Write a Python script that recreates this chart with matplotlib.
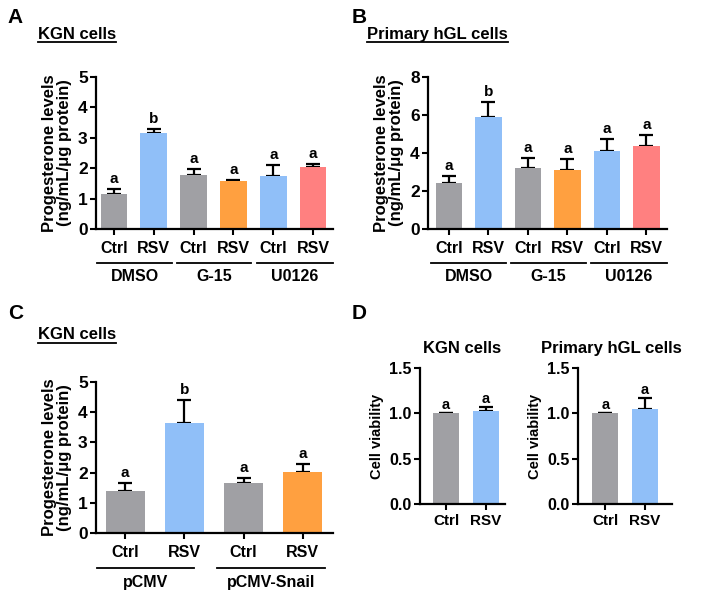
import numpy as np
import matplotlib
matplotlib.use("Agg")
import matplotlib.pyplot as plt
from matplotlib.lines import Line2D

plt.rcParams['font.family'] = ['Liberation Sans', 'DejaVu Sans']
plt.rcParams['font.weight'] = 'bold'
plt.rcParams['axes.linewidth'] = 1.6

GRAY = '#a0a0a4'
BLUE = '#90bff8'
ORANGE = '#ffa040'
PINK = '#ff8080'

# panel A: KGN cells
a_labels = ['Ctrl', 'RSV', 'Ctrl', 'RSV', 'Ctrl', 'RSV']
a_groups = ['DMSO', 'G-15', 'U0126']
a_vals = [1.16, 3.16, 1.77, 1.57, 1.75, 2.05]
a_err = [0.15, 0.14, 0.19, 0.05, 0.34, 0.08]
a_sig = ['a', 'b', 'a', 'a', 'a', 'a']
a_colors = [GRAY, BLUE, GRAY, ORANGE, BLUE, PINK]

# panel B: primary hGL cells
b_vals = [2.42, 5.88, 3.19, 3.13, 4.10, 4.36]
b_err = [0.35, 0.79, 0.56, 0.56, 0.61, 0.58]
b_sig = ['a', 'b', 'a', 'a', 'a', 'a']

# panel C: KGN cells, Snail overexpression
c_labels = ['Ctrl', 'RSV', 'Ctrl', 'RSV']
c_groups = ['pCMV', 'pCMV-Snail']
c_vals = [1.38, 3.64, 1.65, 2.02]
c_err = [0.28, 0.77, 0.18, 0.28]
c_sig = ['a', 'b', 'a', 'a']
c_colors = [GRAY, BLUE, GRAY, ORANGE]

# panel D: cell viability
d_labels = ['Ctrl', 'RSV']
d_kgn_vals = [1.0, 1.03]
d_kgn_err = [0.0, 0.04]
d_hgl_vals = [1.0, 1.05]
d_hgl_err = [0.0, 0.12]
d_sig = ['a', 'a']
d_colors = [GRAY, BLUE]

fig = plt.figure(figsize=(7.03, 5.99), dpi=100)


def bar_panel(rect, vals, err, sig, colors, labels, ylim, yticks, xlim, width,
              ylabel, fs=11.5, yfs=12.5, lfs=12, sig_off=None):
    ax = fig.add_axes(rect)
    x = np.arange(len(vals))
    ax.bar(x, vals, width=width, color=colors, zorder=2)
    ax.errorbar(x, vals, yerr=[np.zeros(len(vals)), err], fmt='none',
                ecolor='black', elinewidth=1.6, capsize=5, capthick=1.6, zorder=1)
    if sig_off is None:
        sig_off = (ylim[1] - ylim[0]) * 0.02
    for xi, v, e, s in zip(x, vals, err, sig):
        ax.text(xi, v + e + sig_off, s, ha='center', va='bottom',
                fontsize=fs - 0.5, fontweight='bold')
    ax.set_xlim(*xlim)
    ax.set_ylim(*ylim)
    ax.set_yticks(yticks)
    ax.set_xticks(x)
    ax.set_xticklabels(labels)
    ax.spines['top'].set_visible(False)
    ax.spines['right'].set_visible(False)
    ax.tick_params(width=1.5, length=4, labelsize=fs, pad=3)
    ax.tick_params(axis='y', labelsize=yfs, pad=2)
    ax.set_ylabel(ylabel, fontsize=lfs, fontweight='bold', labelpad=4,
                  linespacing=1.0)
    return ax


def group_lines(ax, spans, names, y_line, y_text, fs=11.5):
    tr = ax.get_xaxis_transform()
    for (x0, x1), name in zip(spans, names):
        ax.plot([x0, x1], [y_line, y_line], color='black', lw=1.3,
                transform=tr, clip_on=False)
        ax.text((x0 + x1) / 2, y_text, name, ha='center', va='center',
                transform=tr, fontsize=fs, fontweight='bold')


def underlined(x, y, s, fs=12):
    t = fig.text(x, y, s, ha='left', va='center', fontsize=fs, fontweight='bold')
    r = fig.canvas.get_renderer()
    bb = t.get_window_extent(renderer=r).transformed(fig.transFigure.inverted())
    fig.add_artist(Line2D([bb.x0, bb.x1], [bb.y0 - 0.001, bb.y0 - 0.001],
                          color='black', lw=1.3, transform=fig.transFigure))


ylab = 'Progesterone levels\n(ng/mL/\u03bcg protein)'

axA = bar_panel([0.1366, 0.6177, 0.3371, 0.2538], a_vals, a_err, a_sig, a_colors,
                a_labels, (0, 5), range(0, 6), (-0.45, 5.5), 0.67, ylab)
group_lines(axA, [(-0.42, 1.45), (1.58, 3.45), (3.58, 5.5)], a_groups, -0.225, -0.315)

axB = bar_panel([0.6088, 0.6177, 0.34, 0.2538], b_vals, b_err, b_sig, a_colors,
                a_labels, (0, 8), range(0, 9, 2), (-0.53, 5.52), 0.67, ylab)
group_lines(axB, [(-0.46, 1.45), (1.58, 3.47), (3.6, 5.52)], a_groups, -0.225, -0.315)

axC = bar_panel([0.1366, 0.1102, 0.3371, 0.2521], c_vals, c_err, c_sig, c_colors,
                c_labels, (0, 5), range(0, 6), (-0.49, 3.51), 0.66, ylab)
group_lines(axC, [(-0.47, 1.17), (1.55, 3.38)], c_groups, -0.232, -0.33)

axD1 = bar_panel([0.5974, 0.1586, 0.1209, 0.227], d_kgn_vals, d_kgn_err, d_sig,
                 d_colors, d_labels, (0, 1.5), [0, 0.5, 1.0, 1.5], (-0.66, 1.49),
                 0.66, 'Cell viability', fs=11, yfs=11.5, lfs=10.5, sig_off=0.01)
axD1.set_yticklabels(['0.0', '0.5', '1.0', '1.5'])
axD1.text(0.5, 1.09, 'KGN cells', transform=axD1.transAxes, ha='center',
          va='bottom', fontsize=12, fontweight='bold')

axD2 = bar_panel([0.8222, 0.1586, 0.1337, 0.227], d_hgl_vals, d_hgl_err, d_sig,
                 d_colors, d_labels, (0, 1.5), [0, 0.5, 1.0, 1.5], (-0.7, 1.7),
                 0.66, 'Cell viability', fs=11, yfs=11.5, lfs=10.5, sig_off=0.01)
axD2.set_yticklabels(['0.0', '0.5', '1.0', '1.5'])
axD2.text(0.36, 1.09, 'Primary hGL cells', transform=axD2.transAxes, ha='center',
          va='bottom', fontsize=12, fontweight='bold')

for axx in (axA, axB, axC):
    axx.tick_params(axis='x', pad=5)

underlined(0.054, 0.943, 'KGN cells')
underlined(0.522, 0.943, 'Primary hGL cells')
underlined(0.054, 0.441, 'KGN cells')

for lx, ly, s in [(0.011, 0.970, 'A'), (0.500, 0.970, 'B'),
                  (0.011, 0.476, 'C'), (0.500, 0.476, 'D')]:
    fig.text(lx, ly, s, ha='left', va='center', fontsize=15, fontweight='bold')

fig.savefig('out.png', dpi=100)
